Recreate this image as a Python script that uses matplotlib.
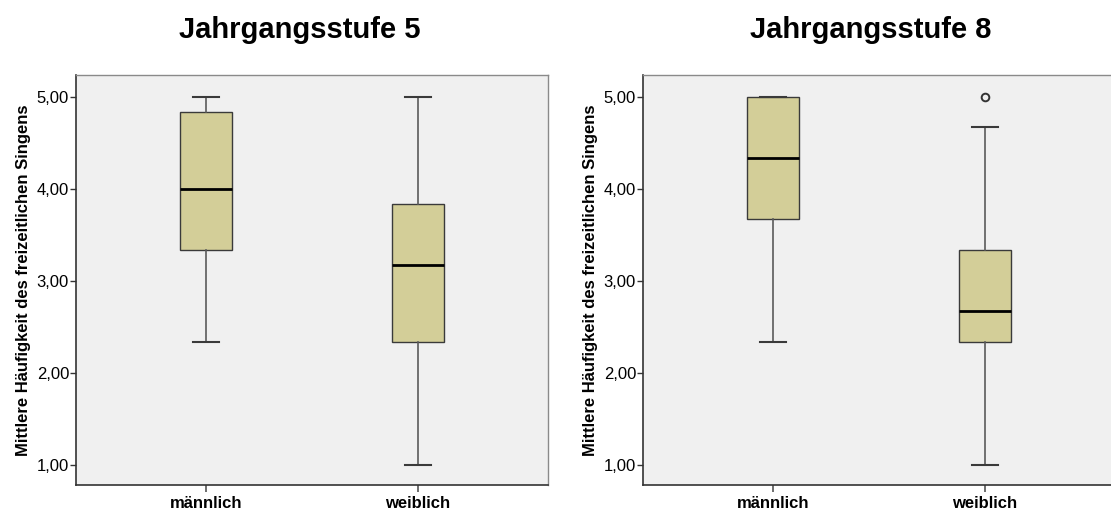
import matplotlib
matplotlib.use("Agg")
import matplotlib.pyplot as plt
from matplotlib.ticker import FuncFormatter

plt.rcParams["font.family"] = ["Liberation Sans", "DejaVu Sans"]

# Five-number summaries per group (whisker low, Q1, median, Q3, whisker high)
groups = ["männlich", "weiblich"]
titles = ["Jahrgangsstufe 5", "Jahrgangsstufe 8"]

grade5_whislo = [2.33, 1.00]
grade5_q1 = [3.33, 2.33]
grade5_med = [4.00, 3.17]
grade5_q3 = [4.83, 3.83]
grade5_whishi = [5.00, 5.00]
grade5_outliers = [[], []]

grade8_whislo = [2.33, 1.00]
grade8_q1 = [3.67, 2.33]
grade8_med = [4.33, 2.67]
grade8_q3 = [5.00, 3.33]
grade8_whishi = [5.00, 4.67]
grade8_outliers = [[], [5.00]]

yticks = [1.0, 2.0, 3.0, 4.0, 5.0]
ylabel = "Mittlere Häufigkeit des freizeitlichen Singens"


def make_stats(lo, q1, med, q3, hi, fl):
    return [dict(whislo=lo[i], q1=q1[i], med=med[i], q3=q3[i], whishi=hi[i],
                 fliers=fl[i], label=groups[i]) for i in range(len(groups))]


datasets = [
    make_stats(grade5_whislo, grade5_q1, grade5_med, grade5_q3, grade5_whishi, grade5_outliers),
    make_stats(grade8_whislo, grade8_q1, grade8_med, grade8_q3, grade8_whishi, grade8_outliers),
]

W, H = 1111, 511
fig = plt.figure(figsize=(W / 100, H / 100), dpi=100)
fig.patch.set_facecolor("white")

ax_w = 472 / W
ax_h = 410 / H
ax_b = 26 / H
lefts = [76 / W, 643 / W]
title_x = [300 / W, 871 / W]

box_fill = "#D3CE98"
for k, (stats, title) in enumerate(zip(datasets, titles)):
    ax = fig.add_axes([lefts[k], ax_b, ax_w, ax_h])
    ax.set_facecolor("#F0F0F0")
    ax.bxp(
        stats,
        positions=[1, 2],
        widths=0.245,
        patch_artist=True,
        showfliers=True,
        boxprops=dict(facecolor=box_fill, edgecolor="#3A3A3A", linewidth=1.0),
        medianprops=dict(color="black", linewidth=2.0),
        whiskerprops=dict(color="#5A5A5A", linewidth=1.2),
        capprops=dict(color="#3A3A3A", linewidth=1.5),
        capwidths=0.123,
        flierprops=dict(marker="o", markersize=5.5, markerfacecolor="none",
                        markeredgecolor="#333333", markeredgewidth=1.4),
    )
    ax.set_xlim(0.387, 2.613)
    ax.set_ylim(0.78, 5.235)
    ax.set_yticks(yticks)
    ax.yaxis.set_major_formatter(FuncFormatter(lambda v, p: f"{v:.2f}".replace(".", ",")))
    ax.set_xticks([1, 2])
    ax.set_xticklabels(groups, fontsize=12, fontweight="bold")
    ax.tick_params(axis="y", labelsize=12, length=4, width=1, color="#333333", pad=1)
    ax.tick_params(axis="x", length=5, width=1.2, color="#555555", pad=3)
    for side in ("left", "bottom"):
        ax.spines[side].set_color("#333333")
        ax.spines[side].set_linewidth(1.2)
    for side in ("top", "right"):
        ax.spines[side].set_color("#8A8A8A")
        ax.spines[side].set_linewidth(1.0)
    ax.set_ylabel(ylabel, fontsize=12, fontweight="bold", labelpad=4)
    fig.text(title_x[k], 1 - 30 / H, title, fontsize=21, fontweight="bold",
             ha="center", va="center")

fig.savefig("out.png", dpi=100, facecolor="white")
